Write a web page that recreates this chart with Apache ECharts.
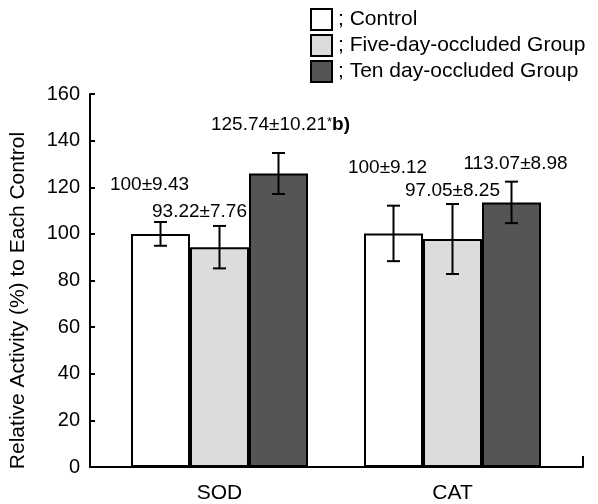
<!DOCTYPE html>
<html>
<head>
<meta charset="utf-8">
<script src="https://cdn.jsdelivr.net/npm/echarts@6/dist/echarts.min.js"></script>
<style>html,body{margin:0;padding:0;background:#fff}#c{width:598px;height:504px}</style>
</head>
<body>
<div id="c"></div>
<script>
const categories = ['SOD', 'CAT'];
const seriesNames = ['Control', 'Five-day-occluded Group', 'Ten day-occluded Group'];
const control = [100, 100.2];
const fiveDay = [94.3, 97.8];
const tenDay = [125.9, 113.5];
const controlErr = [5.1, 11.9];
const fiveDayErr = [9.1, 15.0];
const tenDayErr = [8.8, 8.9];
const controlLabels = ['100±9.43', '100±9.12'];
const fiveDayLabels = ['93.22±7.76', '97.05±8.25'];
const tenDayLabels = ['125.74±10.21', '113.07±8.98'];
const tenDayMarks = ['*b)', ''];
const yMin = 0, yMax = 160, yStep = 20;
const yTitle = 'Relative Activity (%) to Each Control';

const FONT = 'Liberation Sans, Arial, sans-serif';
const BW = 59;

const controlOffsets = [[-11, -35], [-6, -51]];
const fiveOffsets = [[-20, -21], [0, -34]];
const tenOffsets = [[2, -34], [4, -24]];

function barData(vals, labels, offsets, marks) {
  return vals.map((v, i) => ({
    value: v,
    label: {
      show: true,
      position: 'top',
      offset: offsets[i],
      formatter: marks && marks[i] ? '{a|' + labels[i] + '}{s|*}{b|b)}' : '{a|' + labels[i] + '}',
      rich: {
        a: { fontSize: 19, fontFamily: FONT, color: '#000' },
        s: { fontSize: 13, fontFamily: FONT, color: '#000', verticalAlign: 'top', padding: [0, 0, 6, 0] },
        b: { fontSize: 19, fontFamily: FONT, color: '#000', fontWeight: 'bold' }
      }
    }
  }));
}

function errSeries(name, vals, errs, idx) {
  return {
    type: 'custom',
    name: name + ' err',
    xAxisIndex: 1, yAxisIndex: 1,
    z: 10,
    silent: true,
    data: vals.map((v, i) => [i, v, errs[i]]),
    renderItem: function (params, api) {
      const i = api.value(0), v = api.value(1), e = api.value(2);
      const t = api.coord([i, v + e]);
      const b = api.coord([i, v - e]);
      const x = t[0] + (idx - 1) * BW;
      const hw = 6.5;
      const st = { stroke: '#000', lineWidth: 2 };
      return {
        type: 'group',
        children: [
          { type: 'line', shape: { x1: x, y1: t[1], x2: x, y2: b[1] }, style: st },
          { type: 'line', shape: { x1: x - hw, y1: t[1], x2: x + hw, y2: t[1] }, style: st },
          { type: 'line', shape: { x1: x - hw, y1: b[1], x2: x + hw, y2: b[1] }, style: st }
        ]
      };
    }
  };
}

const chart = echarts.init(document.getElementById('c'), null, { renderer: 'canvas' });
chart.setOption({
  animation: false,
  backgroundColor: '#fff',
  textStyle: { fontFamily: FONT },
  legend: {
    data: seriesNames,
    orient: 'vertical',
    left: 305, top: 3,
    itemWidth: 21, itemHeight: 21,
    itemGap: 3,
    icon: 'rect',
    formatter: n => '; ' + n,
    textStyle: { fontSize: 21, lineHeight: 21, fontFamily: FONT, color: '#000', padding: [0, 0, 0, 1] }
  },
  grid: [
    { left: 89, right: 15, top: 94, bottom: 37 },
    { left: 103, right: 29, top: 94, bottom: 37 }
  ],
  xAxis: [
    {
      gridIndex: 0, type: 'value', min: 0, max: 1, interval: 1,
      axisLine: { show: true, lineStyle: { color: '#000', width: 2 } },
      axisTick: { show: true, inside: true, length: 11, lineStyle: { color: '#000', width: 2 } },
      axisLabel: { show: false }, splitLine: { show: false }
    },
    {
      gridIndex: 1, type: 'category', data: categories,
      axisLine: { show: false }, axisTick: { show: false },
      axisLabel: { fontSize: 21, fontFamily: FONT, color: '#000', margin: 16 }
    }
  ],
  yAxis: [
    {
      gridIndex: 0, type: 'value', min: yMin, max: yMax, interval: yStep,
      name: yTitle, nameLocation: 'middle', nameGap: 61, nameRotate: 90,
      nameTextStyle: { fontSize: 21, fontFamily: FONT, color: '#000', padding: [0, 40, 0, 0] },
      axisLine: { show: true, lineStyle: { color: '#000', width: 2 } },
      axisTick: { show: true, inside: true, length: 5, lineStyle: { color: '#000', width: 2 } },
      axisLabel: { fontSize: 20, fontFamily: FONT, color: '#000', margin: 10 },
      splitLine: { show: false }
    },
    { gridIndex: 1, type: 'value', min: yMin, max: yMax, interval: yStep, show: false }
  ],
  series: [
    {
      type: 'bar', name: seriesNames[0], xAxisIndex: 1, yAxisIndex: 1,
      barWidth: BW, barGap: '0%',
      itemStyle: { color: '#ffffff', borderColor: '#000', borderWidth: 2 },
      data: barData(control, controlLabels, controlOffsets)
    },
    {
      type: 'bar', name: seriesNames[1], xAxisIndex: 1, yAxisIndex: 1,
      barWidth: BW, barGap: '0%',
      itemStyle: { color: '#dcdcdc', borderColor: '#000', borderWidth: 2 },
      data: barData(fiveDay, fiveDayLabels, fiveOffsets)
    },
    {
      type: 'bar', name: seriesNames[2], xAxisIndex: 1, yAxisIndex: 1,
      barWidth: BW, barGap: '0%',
      itemStyle: { color: '#555555', borderColor: '#000', borderWidth: 2 },
      data: barData(tenDay, tenDayLabels, tenOffsets, tenDayMarks)
    },
    errSeries('c', control, controlErr, 0),
    errSeries('f', fiveDay, fiveDayErr, 1),
    errSeries('t', tenDay, tenDayErr, 2)
  ]
});
</script>
</body>
</html>
